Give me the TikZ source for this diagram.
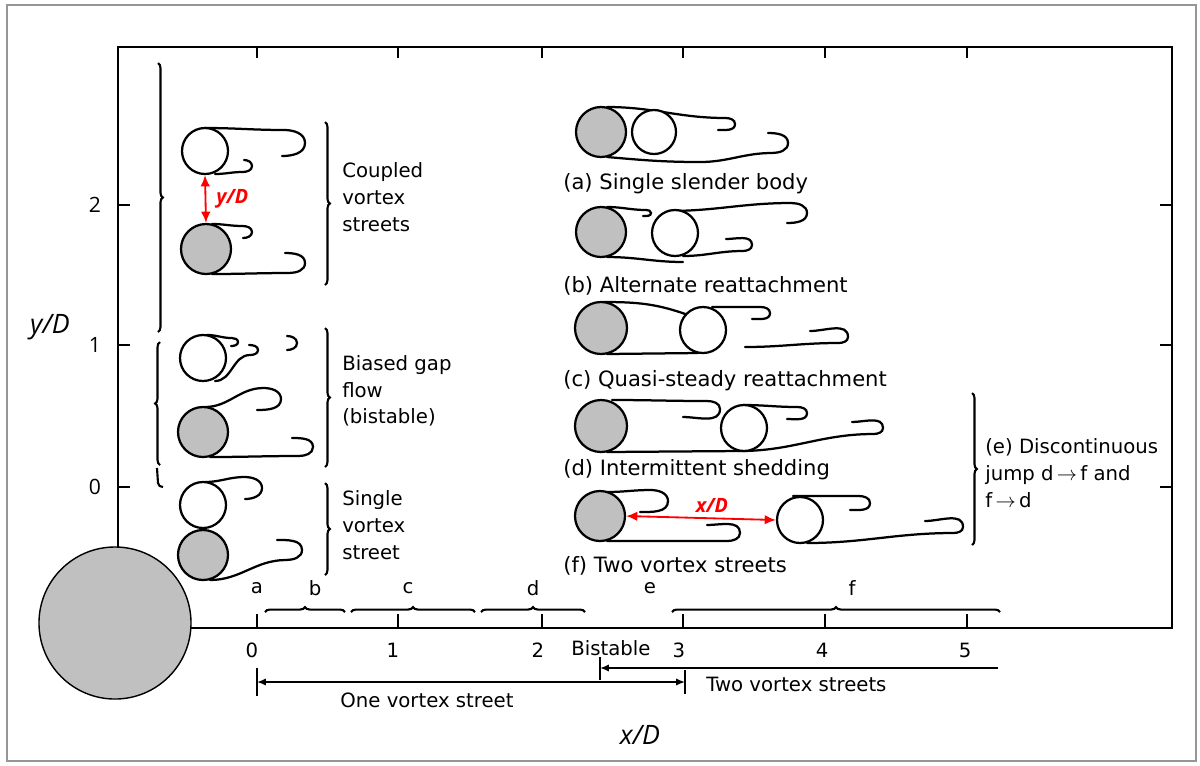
\documentclass[tikz,border=0pt]{standalone}
\usepackage{fontspec}
\setmainfont{DejaVu Sans}
\newfontfamily\overlayfont{Open Sans}
\usetikzlibrary{arrows.meta,decorations.pathreplacing}
\definecolor{cylgray}{RGB}{192,192,192}
\definecolor{edgegray}{RGB}{150,150,150}
\definecolor{markred}{RGB}{255,0,0}
\tikzset{
  cylg/.style={circle,draw=black,fill=cylgray,line width=1.6pt,inner sep=0pt,minimum size=1.25cm},
  cylw/.style={cylg,fill=white,minimum size=1.15cm},
  wake/.style={line width=1.6pt,line cap=round},
  axisline/.style={line width=1.8pt},
  curly/.style={decorate,decoration={brace,amplitude=3.5pt},line width=1.5pt},
  regime/.style={font=\fontsize{14}{19}\selectfont,anchor=west,align=left,inner sep=0pt},
  caption/.style={font=\fontsize{15}{17}\selectfont,anchor=west,inner sep=0pt},
  ticklbl/.style={font=\fontsize{14}{16}\selectfont,inner sep=0pt},
  gap/.style={{Latex[length=2.8mm,width=2.4mm]}-{Latex[length=2.8mm,width=2.4mm]},draw=markred,line width=1.3pt},
  gaplbl/.style={font=\overlayfont\bfseries\itshape\fontsize{14}{16}\selectfont,text=markred,inner sep=0pt},
  axlbl/.style={font=\overlayfont\itshape\fontsize{19}{21}\selectfont,inner sep=0pt},
  ynum/.style={font=\overlayfont\fontsize{15}{17}\selectfont,inner sep=0pt},
  span/.style={{Latex[length=2.2mm,width=1.8mm]}-{Latex[length=2.2mm,width=1.8mm]},line width=1.1pt}
}
% shear layer rolling up downwards / upwards: start, tip, loop radius, end x
\newcommand\wakedn[6]{\draw[wake] (#1,-#2) to[out=0,in=180] ({#3-1.6*#5},{#5-#4}) to[out=0,in=90] (#3,-#4) to[out=-90,in=0] (#6,{-#4-#5});}
\newcommand\wakeup[6]{\draw[wake] (#1,-#2) to[out=0,in=180] ({#3-1.6*#5},{-#4-#5}) to[out=0,in=-90] (#3,-#4) to[out=90,in=0] (#6,{#5-#4});}

\begin{document}
\begin{tikzpicture}[x=0.025cm,y=0.025cm]
  \useasboundingbox (0,0) rectangle (1200,-765);
  \draw[edgegray,line width=0.8pt] (7,-5) rectangle (1196,-761);

  \draw[axisline] (118,-47) rectangle (1172,-628);
  \foreach \x in {257,398,542,683,825,967} {
    \draw[axisline] (\x,-628) -- (\x,-614);
    \draw[axisline] (\x,-47) -- (\x,-58);
  }
  \foreach \y in {205,345,487} {
    \draw[axisline] (118,-\y) -- (130,-\y);
    \draw[axisline] (1172,-\y) -- (1160,-\y);
  }

  \wakedn{205}{128}{305}{143}{13}{282}
  \wakeup{215}{174}{252}{166}{6}{244}
  \wakedn{212}{224}{252}{232}{6}{243}
  \wakeup{212}{274}{305}{263}{10}{285}

  \wakedn{207}{335}{238}{342}{4}{231}
  \wakeup{215}{381}{258}{350}{5}{249}
  \draw[wake] (287,-336) to[out=0,in=90] (297,-343) to[out=-90,in=0] (287,-350);
  \wakedn{205}{407}{281}{399}{11}{257}
  \wakeup{210}{457}{313}{447}{9}{292}

  \wakedn{205}{482}{262}{488}{11}{245}
  \wakeup{210}{580}{302}{550}{10}{277}

  \wakedn{607}{107}{735}{124}{6}{718}
  \draw[wake] (607,-157) to[out=-5,in=180] (700,-162) to[out=0,in=180] (772,-153)
    to[out=0,in=-90] (788,-143) to[out=90,in=0] (768,-133);

  \wakedn{607}{207}{651}{213}{3}{643}
  \draw[wake] (607,-257) to[out=0,in=180] (683,-262);
  \wakedn{668}{211}{807}{213}{10}{787}
  \wakeup{683}{256}{752}{245}{6}{726}

  \draw[wake] (603,-302) to[out=0,in=160] (688,-315);
  \draw[wake] (607,-354) -- (698,-353);
  \wakedn{712}{307}{770}{313}{6}{752}
  \wakeup{745}{347}{848}{337}{6}{810}

  \wakedn{612}{400}{720}{409}{8}{683}
  \draw[wake] (607,-452) -- (740,-451);
  \wakeup{740}{451}{883}{428}{6}{852}
  \wakedn{743}{405}{807}{413}{6}{787}

  \wakedn{607}{492}{668}{501}{11}{640}
  \wakeup{607}{541}{740}{533}{8}{707}
  \wakedn{793}{496}{870}{503}{7}{850}
  \wakeup{807}{543}{963}{527}{6}{925}

  \node[cylw] (w1) at (205,-151) {};
  \node[cylg] (g1) at (206,-249) {};
  \node[cylw] (w2) at (203,-358) {};
  \node[cylg] (g2) at (203,-432) {};
  \node[cylw] (w3) at (203,-505) {};
  \node[cylg] (g3) at (203,-555) {};

  \node[cylg] (ga) at (601,-132) {};
  \node[cylw,minimum size=1.1cm] (wa) at (654,-132) {};
  \node[cylg] (gb) at (601,-232) {};
  \node[cylw] (wb) at (675,-233) {};
  \node[cylg,minimum size=1.3cm] (gc) at (601,-328) {};
  \node[cylw] (wc) at (703,-330) {};
  \node[cylg,minimum size=1.3cm] (gd) at (601,-426) {};
  \node[cylw] (wd) at (744,-428) {};
  \node[cylg] (gf) at (600,-516) {};
  \node[cylw] (wf) at (800,-520) {};

  \node[cylg,line width=1pt,minimum size=3.8cm] (big) at (115,-623) {};

  \draw[gap] (w1.south) -- (g1.north);
  \node[gaplbl,anchor=west] (ylbl) at (216,-199) {y/D};
  \draw[gap] (gf.east) -- (wf.west);
  \node[gaplbl] (xlbl) at (712,-505) {x/D};

  \draw[curly] (158,-63) -- (158,-332);
  \draw[curly] (160,-465) -- (160,-342);
  \draw[line width=1.5pt] (157,-468) -- (158,-483) to[out=-90,in=180] (163,-487);
  \draw[curly] (325,-122) -- (325,-285);
  \draw[curly] (325,-328) -- (325,-467);
  \draw[curly] (325,-483) -- (325,-575);
  \draw[curly] (972,-393) -- (972,-545);

  \node[regime] (coupled) at (342,-197) {Coupled\\vortex\\streets};
  \node[regime] (biased) at (342,-391) {Biased gap\\flow\\(bistable)};
  \node[regime] (single) at (342,-525) {Single\\vortex\\street};
  \node[regime] (jump) at (985,-473) {(e) Discontinuous\\jump d\,$\rightarrow$\,f and\\f\,$\rightarrow$\,d};

  \node[caption] (capa) at (563,-184) {(a) Single slender body};
  \node[caption] (capb) at (563,-286) {(b) Alternate reattachment};
  \node[caption] (capc) at (563,-381) {(c) Quasi-steady reattachment};
  \node[caption] (capd) at (563,-470) {(d) Intermittent shedding};
  \node[caption] (capf) at (563,-566) {(f) Two vortex streets};

  \draw[curly] (265,-612) -- (345,-612);
  \draw[curly] (351,-612) -- (475,-612);
  \draw[curly] (481,-612) -- (585,-612);
  \draw[curly] (672,-612) -- (1000,-612);
  \node[ticklbl] (ra) at (257,-588) {a};
  \node[ticklbl] (rb) at (315,-588) {b};
  \node[ticklbl] (rc) at (408,-588) {c};
  \node[ticklbl] (rd) at (533,-588) {d};
  \node[ticklbl] (re) at (650,-588) {e};
  \node[ticklbl] (rf) at (852,-588) {f};

  \foreach \v/\x in {0/252,1/393,2/538,3/679,4/822,5/965}
    \node[ticklbl] (xt\v) at (\x,-650) {\v};
  \node[ticklbl] (bist) at (611,-648) {Bistable};

  \coordinate (one0) at (257,-682);
  \coordinate (one1) at (685,-682);
  \draw[span] (one0) -- (one1);
  \draw[line width=1.1pt] (257,-668) -- (257,-696);
  \draw[line width=1.1pt] (685,-670) -- (685,-694);
  \node[ticklbl] (onelbl) at (427,-700) {One vortex street};
  \coordinate (two0) at (600,-668);
  \coordinate (two1) at (998,-668);
  \draw[{Latex[length=2.2mm,width=1.8mm]}-,line width=1.1pt] (two0) -- (two1);
  \draw[line width=1.1pt] (600,-657) -- (600,-680);
  \node[ticklbl,anchor=west] (twolbl) at (706,-684) {Two vortex streets};

  \node[ynum] (y2) at (95,-205) {2};
  \node[ynum] (y1) at (95,-345) {1};
  \node[ynum] (y0) at (95,-487) {0};
  \node[axlbl] (ylab) at (50,-327) {y/D};
  \node[axlbl] (xlab) at (640,-735) {x/D};
\end{tikzpicture}
\end{document}
